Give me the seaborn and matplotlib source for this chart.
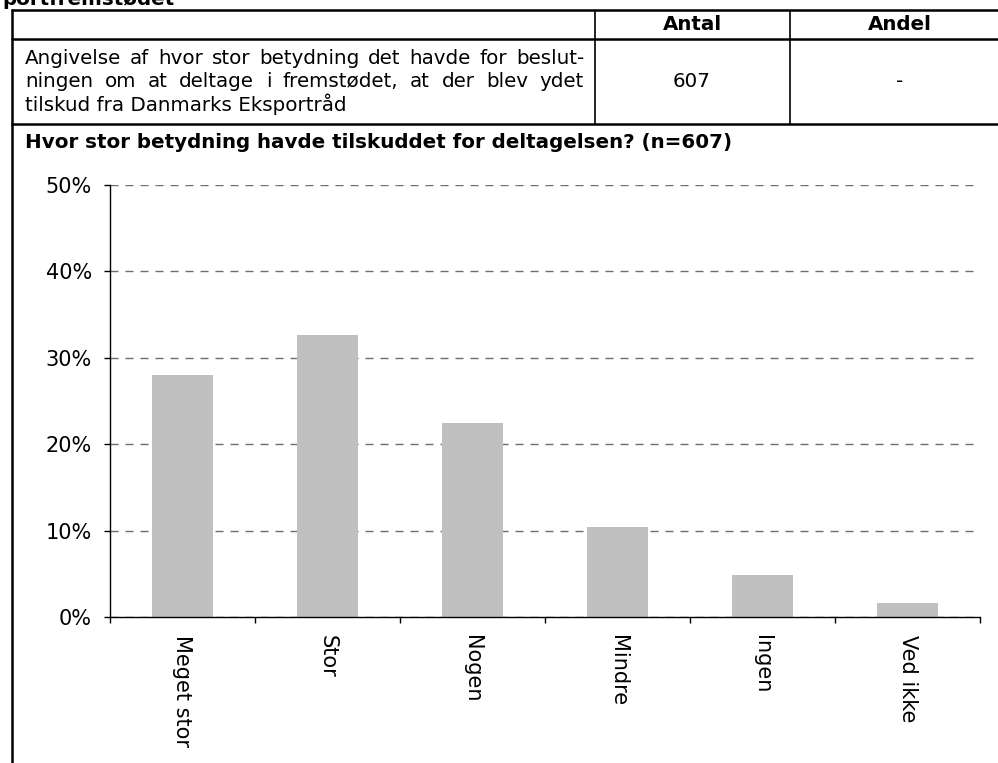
import matplotlib
matplotlib.use("Agg")
import matplotlib.pyplot as plt
import seaborn as sns
import pandas as pd
from matplotlib.lines import Line2D

# Survey answers: how much the grant mattered for taking part
categories = ["Meget stor", "Stor", "Nogen", "Mindre", "Ingen", "Ved ikke"]
shares = [28.0, 32.6, 22.4, 10.4, 4.9, 1.6]
y_ticks = [0, 10, 20, 30, 40, 50]

top_heading = "portfremstødet"
col_headers = ["Antal", "Andel"]
row_text_lines = [
    "Angivelse af hvor stor betydning det havde for beslut-",
    "ningen om at deltage i fremstødet, at der blev ydet",
    "tilskud fra Danmarks Eksportråd",
]
row_values = ["607", "-"]
section_title = "Hvor stor betydning havde tilskuddet for deltagelsen? (n=607)"

W, H = 998, 763
sns.set_theme(style="white")
plt.rcParams["font.family"] = ["DejaVu Sans"]

fig = plt.figure(figsize=(W / 100, H / 100), dpi=100)
fig.patch.set_facecolor("white")

TXT = 14.3    # table / heading text size
TICK = 15.0   # axis tick label size


def fx(px):
    return px / W


def fy(py):
    return 1 - py / H


# ---- bar chart ----
ax = fig.add_axes([fx(110), fy(617), fx(980) - fx(110), fy(185) - fy(617)])
df = pd.DataFrame({"kategori": categories, "andel": shares})
sns.barplot(data=df, x="kategori", y="andel", color="#c0c0c0", saturation=1,
            width=0.414, linewidth=0, ax=ax)
ax.set_xlim(-0.5, len(categories) - 0.5)
ax.set_ylim(0, 50)
ax.set_xlabel("")
ax.set_ylabel("")
ax.set_facecolor("white")
ax.set_axisbelow(True)

for side in ("top", "right"):
    ax.spines[side].set_visible(False)
for side in ("left", "bottom"):
    ax.spines[side].set_color("black")
    ax.spines[side].set_linewidth(1.0)

ax.set_yticks(y_ticks)
ax.set_yticklabels([f"{v}%" for v in y_ticks])
ax.yaxis.grid(True, color="#6e6e6e", linewidth=1.0, linestyle=(0, (5.8, 5.0)))
ax.xaxis.grid(False)
ax.tick_params(axis="y", which="major", direction="out", length=4.3, width=1,
               color="black", pad=8.6, labelsize=TICK, labelcolor="black", left=True)

ax.set_xticks(range(len(categories)))
ax.set_xticklabels(categories, rotation=270, ha="center", va="top")
ax.set_xticks([i - 0.5 for i in range(len(categories) + 1)], minor=True)
ax.tick_params(axis="x", which="major", length=0, pad=13, labelsize=TICK,
               labelcolor="black", bottom=True)
ax.tick_params(axis="x", which="minor", direction="out", length=4.3, width=1,
               color="black", bottom=True)

# ---- table frame ----
def hline(y, x0, x1, lw):
    fig.add_artist(Line2D([fx(x0), fx(x1)], [fy(y), fy(y)], color="black",
                          linewidth=lw, solid_capstyle="butt"))


def vline(x, y0, y1, lw):
    fig.add_artist(Line2D([fx(x), fx(x)], [fy(y0), fy(y1)], color="black",
                          linewidth=lw, solid_capstyle="butt"))


hline(9.5, 10.5, W + 5, 1.8)
hline(39.0, 10.5, W + 5, 1.8)
hline(123.5, 10.5, W + 5, 1.8)
vline(11.5, 8.5, H + 5, 1.8)
vline(595, 9.5, 123.5, 1.2)
vline(790, 9.5, 123.5, 1.2)

# ---- texts ----
fig.text(fx(2), fy(5), top_heading, ha="left", va="baseline",
         fontsize=TXT, fontweight="bold", color="black")

fig.text(fx(692), fy(24.5), col_headers[0], ha="center", va="center",
         fontsize=TXT, fontweight="bold", color="black")
fig.text(fx(900), fy(24.5), col_headers[1], ha="center", va="center",
         fontsize=TXT, fontweight="bold", color="black")

renderer = fig.canvas.get_renderer()


def justified(line, x0, x1, y, **kw):
    words = line.split(" ")
    arts = [fig.text(0, fy(y), w, ha="left", va="center", **kw) for w in words]
    widths = [a.get_window_extent(renderer).width for a in arts]
    gap = (x1 - x0 - sum(widths)) / (len(words) - 1)
    x = x0
    for a, w in zip(arts, widths):
        a.set_x(fx(x))
        x += w + gap


row_y = [59, 81.5, 104]
text_kw = dict(fontsize=TXT, color="black")
justified(row_text_lines[0], 25, 584, row_y[0], **text_kw)
justified(row_text_lines[1], 25, 584, row_y[1], **text_kw)
fig.text(fx(25), fy(row_y[2]), row_text_lines[2], ha="left", va="center", **text_kw)

fig.text(fx(692), fy(81.5), row_values[0], ha="center", va="center", **text_kw)
fig.text(fx(900), fy(81.5), row_values[1], ha="center", va="center", **text_kw)

fig.text(fx(25), fy(143), section_title, ha="left", va="center",
         fontsize=TXT, fontweight="bold", color="black")

fig.savefig("out.png", dpi=100, facecolor="white")
